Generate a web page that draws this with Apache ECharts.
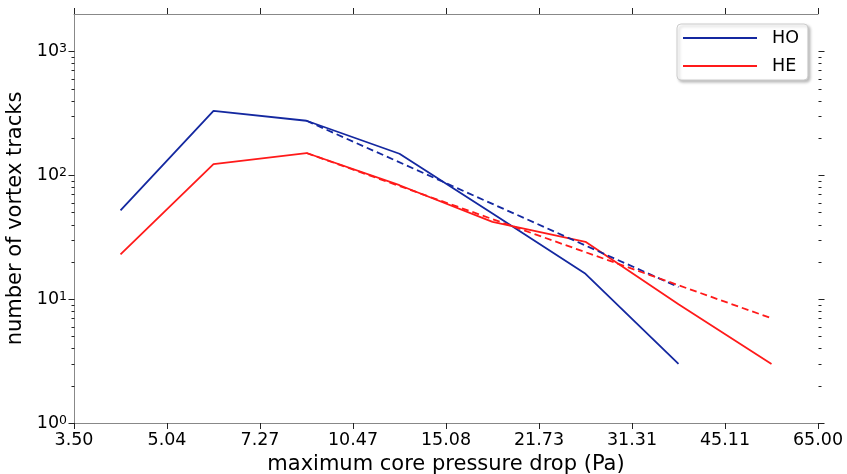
<!DOCTYPE html>
<html>
<head>
<meta charset="utf-8">
<script src="https://cdn.jsdelivr.net/npm/echarts@6/dist/echarts.min.js"></script>
<style>
html,body{margin:0;padding:0;background:#fff;}
#chart{width:847px;height:474px;}
</style>
</head>
<body>
<div id="chart"></div>
<script>
// Bin edges (tick labels) of the log-spaced x axis
const xTickLabels = ['3.50','5.04','7.27','10.47','15.08','21.73','31.31','45.11','65.00'];
// Counts per bin (bin i lies between tick i and tick i+1)
const hoCounts = [52, 331, 275, 149, 49, 16, 3];
const heCounts = [23, 123, 151, 83, 42, 29, 9.1, 3];
// Power-law fits: [bin index of centre, value]
const hoFitBins = [2, 6];
const hoFitVals = [275, 12.5];
const heFitBins = [2, 7];
const heFitVals = [151, 7.0];
// y axis ticks
const yMajor = [1, 10, 100, 1000];
const yMinor = [2,3,4,5,6,7,8,9,20,30,40,50,60,70,80,90,200,300,400,500,600,700,800,900];

const FONT = 'DejaVu Sans';
const BLUE = '#1428a0';
const RED = '#ff1a1a';
const nBins = xTickLabels.length - 1;

const toPts = (bins, vals) => vals.map((v, i) => [bins[i] + 0.5, v]);
const seqPts = vals => vals.map((v, i) => [i + 0.5, v]);

function yLabel(v) {
  const e = Math.round(Math.log10(v));
  if (Math.abs(Math.pow(10, e) - v) > 1e-6 * v) return '';
  return '{b|10}{s|' + e + '}';
}

const tickData = yMajor.map(v => [0, v, 6]).concat(yMinor.map(v => [0, v, 3]));

const chart = echarts.init(document.getElementById('chart'), null, {renderer: 'canvas'});
const xAxisBase = {
  type: 'value', min: 0, max: nBins, interval: 1,
  axisLine: {show: true, lineStyle: {color: '#888', width: 1}},
  axisTick: {show: true, inside: false, length: 6, lineStyle: {color: '#222', width: 1}},
  splitLine: {show: false}
};
const yAxisBase = {
  type: 'log', logBase: 10, min: 1, max: 2000,
  axisLine: {show: true, lineStyle: {color: '#888', width: 1}},
  axisTick: {show: false},
  splitLine: {show: false},
  minorTick: {show: false}
};

chart.setOption({
  animation: false,
  backgroundColor: '#fff',
  grid: {left: 74, right: 29, top: 14, bottom: 51, containLabel: false, outerBoundsMode: 'none'},
  legend: {
    orient: 'vertical', left: 677, top: 24,
    data: [{name: 'HO', icon: 'rect'}, {name: 'HE', icon: 'rect'}],
    itemWidth: 74, itemHeight: 2, itemGap: 10,
    padding: [5, 9, 5, 6],
    backgroundColor: '#fff', borderColor: '#ccc', borderWidth: 1, borderRadius: 4,
    shadowBlur: 3, shadowColor: 'rgba(0,0,0,0.25)', shadowOffsetX: 2, shadowOffsetY: 2,
    textStyle: {fontFamily: FONT, fontSize: 17.5, color: '#000', padding: [0, 0, 0, 10]}
  },
  xAxis: [
    Object.assign({}, xAxisBase, {
      position: 'bottom',
      axisLabel: {show: true, margin: 8, fontFamily: FONT, fontSize: 17.5, color: '#000',
        formatter: v => xTickLabels[Math.round(v)]},
      name: 'maximum core pressure drop (Pa)', nameLocation: 'middle', nameGap: 30,
      nameTextStyle: {fontFamily: FONT, fontSize: 21, color: '#000'}
    }),
    Object.assign({}, xAxisBase, {position: 'top', axisLabel: {show: false}})
  ],
  yAxis: [
    Object.assign({}, yAxisBase, {
      position: 'left',
      axisLabel: {show: true, margin: 7, formatter: yLabel,
        rich: {
          b: {fontFamily: FONT, fontSize: 17.5, color: '#000'},
          s: {fontFamily: FONT, fontSize: 12.5, color: '#000', verticalAlign: 'top'}
        }},
      name: 'number of vortex tracks', nameLocation: 'middle', nameGap: 42,
      nameTextStyle: {fontFamily: FONT, fontSize: 21, color: '#000'}
    }),
    Object.assign({}, yAxisBase, {position: 'right', axisLabel: {show: false}})
  ],
  series: [
    {name: 'HO', type: 'line', data: seqPts(hoCounts), showSymbol: false, symbol: 'none',
     lineStyle: {color: BLUE, width: 1.8}, itemStyle: {color: BLUE}, z: 3},
    {name: 'HE', type: 'line', data: seqPts(heCounts), showSymbol: false, symbol: 'none',
     lineStyle: {color: RED, width: 1.8}, itemStyle: {color: RED}, z: 3},
    {name: 'HO fit', type: 'line', data: toPts(hoFitBins, hoFitVals), showSymbol: false, symbol: 'none',
     lineStyle: {color: BLUE, width: 1.8, type: [7, 4]}, z: 4},
    {name: 'HE fit', type: 'line', data: toPts(heFitBins, heFitVals), showSymbol: false, symbol: 'none',
     lineStyle: {color: RED, width: 1.8, type: [7, 4]}, z: 4},
    {name: 'yticks', type: 'custom', data: tickData, encode: {x: 0, y: 1}, silent: true, clip: false, z: 5,
     renderItem: function (params, api) {
       const v = api.value(1), len = api.value(2);
       const pL = api.coord([0, v]);
       const pR = api.coord([nBins, v]);
       const y = Math.round(pL[1]) + 0.5;
       const xl = Math.round(pL[0]) + 0.5, xr = Math.round(pR[0]) + 0.5;
       return {type: 'group', children: [
         {type: 'line', shape: {x1: xl - len, y1: y, x2: xl, y2: y}, style: {stroke: '#222', lineWidth: 1}},
         {type: 'line', shape: {x1: xr, y1: y, x2: xr + len, y2: y}, style: {stroke: '#222', lineWidth: 1}}
       ]};
     }}
  ]
});
</script>
</body>
</html>
